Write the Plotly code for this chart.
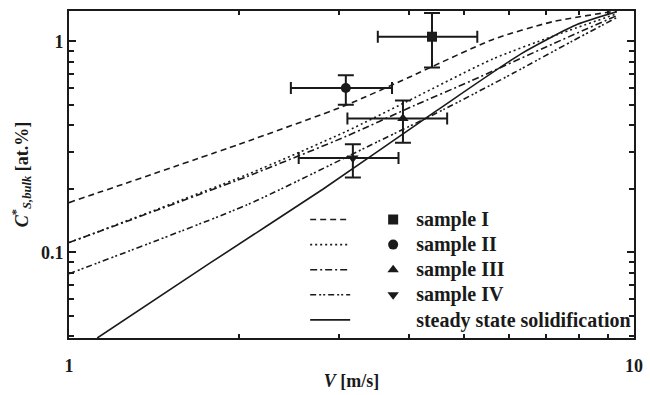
import math
import plotly.graph_objects as go

# ---- data ----
samples = ["sample I", "sample II", "sample III", "sample IV"]
steady_name = "steady state solidification"
sample_symbols = ["square", "circle", "triangle-up", "triangle-down"]
sample_v = [4.39, 3.09, 3.90, 3.18]
sample_v_lo = [3.52, 2.47, 3.11, 2.55]
sample_v_hi = [5.28, 3.73, 4.67, 3.83]
sample_c = [1.05, 0.60, 0.43, 0.28]
sample_c_lo = [0.75, 0.50, 0.33, 0.226]
sample_c_hi = [1.36, 0.69, 0.524, 0.325]

curve1_v = [1.0, 2.0, 3.09, 4.0, 5.63, 7.17, 9.3]
curve1_c = [0.172, 0.325, 0.497, 0.675, 1.02, 1.236, 1.39]
curve2_v = [1.0, 2.067, 3.087, 4.088, 5.635, 7.17, 9.3]
curve2_c = [0.1112, 0.2337, 0.3727, 0.540, 0.826, 1.054, 1.346]
curve3_v = [1.0, 2.067, 3.087, 4.088, 5.14, 7.17, 9.3]
curve3_c = [0.1112, 0.2288, 0.3534, 0.4964, 0.6475, 0.9687, 1.318]
curve4_v = [1.0, 2.067, 3.524, 4.61, 6.107, 7.77, 9.3]
curve4_c = [0.0792, 0.168, 0.335, 0.4757, 0.7047, 1.0, 1.29]
steady_v = [1.122, 1.778, 2.818, 4.467, 6.31, 7.943, 9.33]
steady_c = [0.0393, 0.0891, 0.1995, 0.4677, 0.871, 1.202, 1.38]

curve_vs = [curve1_v, curve2_v, curve3_v, curve4_v, steady_v]
curve_cs = [curve1_c, curve2_c, curve3_c, curve4_c, steady_c]
curve_dash = ["6px,4px", "2px,3px", "7px,3px,2px,3px", "6px,3px,2px,2px,2px,3px", "solid"]

x_range_v = [1, 10]
y_range_c = [0.0393, 1.39]
x_major = [1, 10]
x_major_text = ["1", "10"]
x_minor = [2, 3, 4, 5, 6, 7, 8, 9]
y_major = [0.1, 1]
y_major_text = ["0.1", "1"]
y_minor = [0.04, 0.05, 0.06, 0.07, 0.08, 0.09, 0.2, 0.3, 0.4, 0.5, 0.6, 0.7, 0.8, 0.9]

FONT = "Liberation Serif"
INK = "#1a1a1a"


def big(txt):
    return '<span style="font-size:20px">' + txt + "</span>"


fig = go.Figure()

for v, c, d in zip(curve_vs, curve_cs, curve_dash):
    fig.add_trace(go.Scatter(
        x=v, y=c, mode="lines", name=" ",
        line=dict(color=INK, width=1.6, dash=d, shape="spline", smoothing=0.6),
        legend="legend", showlegend=True,
    ))

for i, name in enumerate(samples):
    fig.add_trace(go.Scatter(
        x=[sample_v[i]], y=[sample_c[i]], mode="markers", name=big(name),
        marker=dict(symbol=sample_symbols[i], size=10, color=INK),
        error_x=dict(type="data", symmetric=False,
                     array=[sample_v_hi[i] - sample_v[i]],
                     arrayminus=[sample_v[i] - sample_v_lo[i]],
                     color=INK, thickness=2, width=6),
        error_y=dict(type="data", symmetric=False,
                     array=[sample_c_hi[i] - sample_c[i]],
                     arrayminus=[sample_c[i] - sample_c_lo[i]],
                     color=INK, thickness=2, width=8),
        legend="legend2",
    ))

fig.add_trace(go.Scatter(
    x=[None], y=[None], mode="markers", name=big(steady_name),
    marker=dict(size=10, color="rgba(0,0,0,0)"), legend="legend2",
))

tickfont = dict(family=FONT, size=18, color=INK, weight="bold")
axis_common = dict(
    type="log", showline=True, linewidth=2, linecolor=INK, mirror="allticks",
    ticks="inside", ticklen=7, tickwidth=1.5, tickcolor=INK,
    showgrid=False, zeroline=False, tickfont=tickfont,
)
legfont = dict(family=FONT, size=17, color=INK, weight="bold")

fig.update_layout(
    width=650, height=395,
    margin=dict(l=69, r=7, t=11, b=48),
    paper_bgcolor="white", plot_bgcolor="white",
    xaxis=dict(
        **axis_common,
        range=[math.log10(x_range_v[0]), math.log10(x_range_v[1])],
        tickmode="array", tickvals=x_major, ticktext=x_major_text,
        ticklabelstandoff=10,
        minor=dict(tickmode="array", tickvals=x_minor, ticks="inside",
                   ticklen=4, tickwidth=1.5, tickcolor=INK),
        title=dict(text="<i>V</i> [m/s]", font=dict(family=FONT, size=18, color=INK, weight="bold"), standoff=0),
    ),
    yaxis=dict(
        **axis_common,
        range=[math.log10(y_range_c[0]), math.log10(y_range_c[1])],
        tickmode="array", tickvals=y_major, ticktext=y_major_text,
        minor=dict(tickmode="array", tickvals=y_minor, ticks="inside",
                   ticklen=5, tickwidth=1.5, tickcolor=INK),
        title=dict(text="<i>C</i><sup>*</sup><sub><i>S,bulk</i></sub> [at.%]",
                   font=dict(family=FONT, size=18, color=INK, weight="bold"), standoff=8),
    ),
    legend=dict(
        x=0.418, y=0.416, xanchor="left", yanchor="top",
        font=legfont, bgcolor="rgba(0,0,0,0)", itemwidth=40, tracegroupgap=0,
    ),
    legend2=dict(
        x=0.533, y=0.416, xanchor="left", yanchor="top",
        font=legfont, bgcolor="rgba(0,0,0,0)", itemwidth=36, tracegroupgap=0,
    ),
    showlegend=True,
)

fig.write_html("out.html")
